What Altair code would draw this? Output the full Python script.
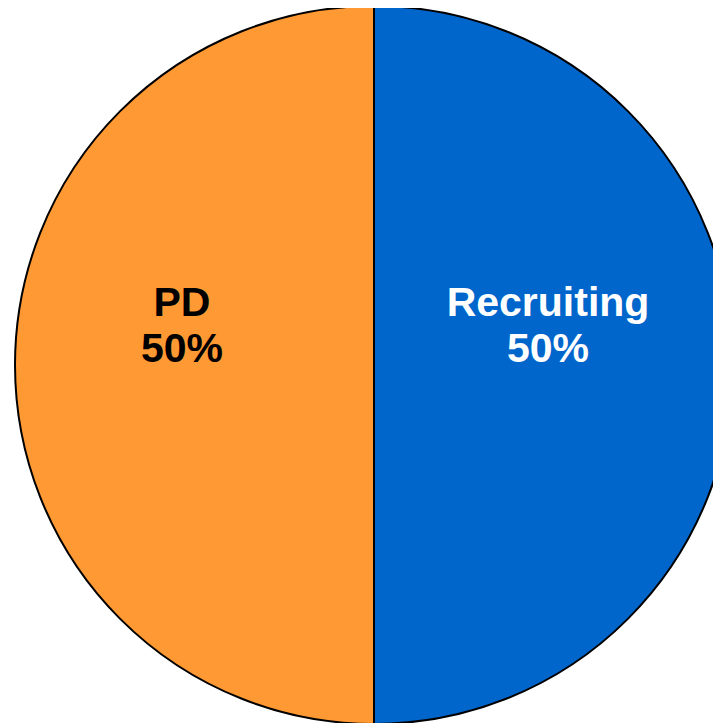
import altair as alt
import pandas as pd
import math

categories = ["Recruiting", "PD"]
shares = [50, 50]
labels = ["Recruiting\n50%", "PD\n50%"]
colors = ["#0066CC", "#FF9933"]

df = pd.DataFrame({
    "category": categories,
    "share": shares,
    "label": labels,
    "order": list(range(len(categories))),
})

CX, CY = 366, 357

pie = alt.Chart(df).mark_arc(radius=359, stroke="black", strokeWidth=2).encode(
    theta=alt.Theta("share:Q", stack=True),
    order=alt.Order("order:Q"),
    x=alt.value(CX),
    y=alt.value(CY),
    color=alt.Color("category:N", scale=alt.Scale(domain=categories, range=colors), legend=None),
)

lab_base = alt.Chart(df).transform_joinaggregate(
    total="sum(share)"
).transform_window(
    cum="sum(share)", sort=[alt.SortField("order")], frame=[None, 0]
).transform_calculate(
    mid="(datum.cum - datum.share / 2) / datum.total"
)

def label_layer(cat, color, r):
    return lab_base.transform_filter(alt.datum.category == cat).mark_text(
        font="Liberation Sans", fontSize=41, fontWeight="bold",
        lineBreak="\n", lineHeight=46, align="center", baseline="middle",
        dy=-61, radius=r, color=color,
    ).encode(
        theta=alt.Theta("mid:Q", stack=None,
                        scale=alt.Scale(domain=[0, 1], range=[0, 2 * math.pi])),
        x=alt.value(CX),
        y=alt.value(CY),
        text="label:N",
    )

labels_layer = alt.layer(
    label_layer("Recruiting", "white", 174),
    label_layer("PD", "black", 192),
)

chart = alt.layer(pie, labels_layer).resolve_scale(theta="independent").properties(
    width=705, height=715, padding=0, autosize=alt.AutoSizeParams(type="none")
).configure_view(stroke=None)

chart.save("out.html", embed_options={"renderer": "svg", "actions": False})
